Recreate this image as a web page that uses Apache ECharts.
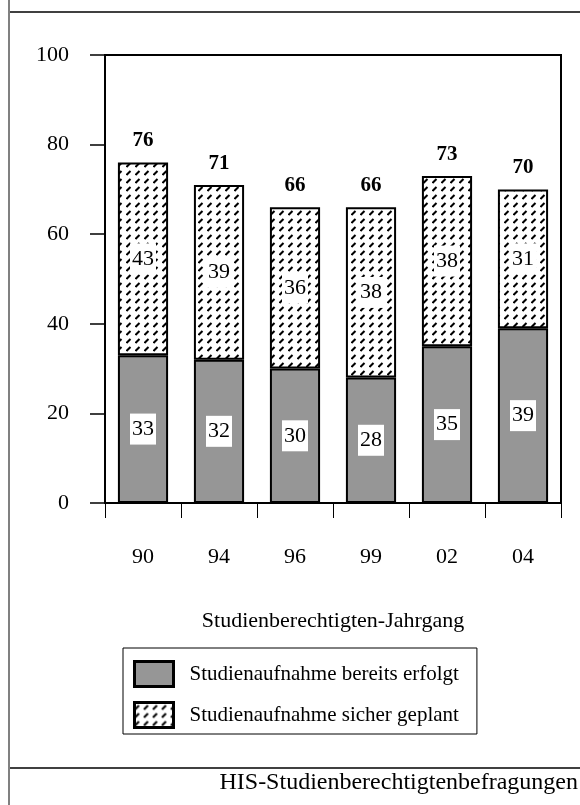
<!DOCTYPE html>
<html>
<head>
<meta charset="utf-8">
<script src="https://cdn.jsdelivr.net/npm/echarts@6/dist/echarts.min.js"></script>
<style>
  html, body { margin: 0; padding: 0; background: #fff; }
  #chart { width: 580px; height: 805px; }
</style>
</head>
<body>
<div id="chart"></div>
<script>
// Studienberechtigten-Jahrgänge and shares (in %)
const years = ['90', '94', '96', '99', '02', '04'];
const bereitsErfolgt = [33, 32, 30, 28, 35, 39];
const sicherGeplant = [43, 39, 36, 38, 38, 31];
const totals = [76, 71, 66, 66, 73, 70];
const yTicks = [0, 20, 40, 60, 80, 100];

const seriesNames = ['Studienaufnahme bereits erfolgt', 'Studienaufnahme sicher geplant'];
const FONT = '"Liberation Serif", "Times New Roman", serif';

// Hatched fill: short diagonal dashes on white
function makeHatch() {
  const c = document.createElement('canvas');
  c.width = 9; c.height = 8;
  const g = c.getContext('2d');
  g.fillStyle = '#fff';
  g.fillRect(0, 0, 9, 8);
  g.strokeStyle = '#000';
  g.lineWidth = 2;
  g.beginPath();
  g.moveTo(0.5, 7);
  g.lineTo(4.5, 3);
  g.stroke();
  return c;
}
const hatch = { image: makeHatch(), repeat: 'repeat' };

const chart = echarts.init(document.getElementById('chart'), null, { renderer: 'canvas' });

const insideLabel = {
  show: true,
  position: 'inside',
  color: '#000',
  fontFamily: FONT,
  fontSize: 22,
  backgroundColor: '#fff',
  padding: [5, 2, 4, 2]
};

chart.setOption({
  animation: false,
  backgroundColor: '#fff',
  textStyle: { fontFamily: FONT, color: '#000' },
  grid: {
    left: 105, right: 19, top: 55, bottom: 302,
    show: true, borderColor: '#000', borderWidth: 2, backgroundColor: 'transparent'
  },
  xAxis: {
    type: 'category',
    data: years,
    name: 'Studienberechtigten-Jahrgang',
    nameLocation: 'middle',
    nameGap: 107,
    nameTextStyle: { fontFamily: FONT, fontSize: 22, color: '#000' },
    axisLine: { show: true, lineStyle: { color: '#000', width: 2 } },
    axisTick: { show: true, length: 15, lineStyle: { color: '#000', width: 1 } },
    axisLabel: { margin: 43, fontFamily: FONT, fontSize: 22, color: '#000' }
  },
  yAxis: {
    type: 'value',
    min: yTicks[0],
    max: yTicks[yTicks.length - 1],
    interval: yTicks[1] - yTicks[0],
    splitLine: { show: false },
    axisLine: { show: true, lineStyle: { color: '#000', width: 2 } },
    axisTick: { show: true, length: 15, lineStyle: { color: '#000', width: 1.5 } },
    axisLabel: { margin: 36, fontFamily: FONT, fontSize: 22, color: '#000' }
  },
  legend: {
    data: seriesNames,
    icon: 'rect',
    orient: 'vertical',
    left: 123,
    top: 648,
    padding: [12, 18, 5, 10],
    itemWidth: 39,
    itemHeight: 25,
    itemGap: 13,
    borderColor: '#000',
    borderWidth: 1,
    itemStyle: { borderWidth: 3, borderColor: '#000' },
    textStyle: { fontFamily: FONT, fontSize: 21, color: '#000', padding: [0, 0, 0, 11] },
    selectedMode: false
  },
  graphic: [
    { type: 'line', shape: { x1: 9, y1: 0, x2: 9, y2: 805 }, style: { stroke: '#808080', lineWidth: 2 } },
    { type: 'line', shape: { x1: 10, y1: 12, x2: 580, y2: 12 }, style: { stroke: '#000', lineWidth: 1.5 } },
    { type: 'line', shape: { x1: 10, y1: 768, x2: 580, y2: 768 }, style: { stroke: '#000', lineWidth: 1.5 } },
    {
      type: 'text', right: 2, top: 771,
      style: { text: 'HIS-Studienberechtigtenbefragungen', font: '24px ' + FONT, fill: '#000' }
    }
  ],
  series: [
    {
      name: seriesNames[0],
      type: 'bar',
      stack: 'anteil',
      barCategoryGap: '34%',
      data: bereitsErfolgt,
      itemStyle: { color: '#969696', borderColor: '#000', borderWidth: 2 },
      label: insideLabel
    },
    {
      name: seriesNames[1],
      type: 'bar',
      stack: 'anteil',
      data: sicherGeplant,
      itemStyle: { color: hatch, borderColor: '#000', borderWidth: 2 },
      label: insideLabel
    },
    {
      // carries the total above each stacked bar
      name: 'Gesamt',
      type: 'bar',
      barGap: '-100%',
      z: 1,
      data: totals,
      itemStyle: { color: 'rgba(0,0,0,0)', borderWidth: 0 },
      label: {
        show: true,
        position: 'top',
        distance: 11,
        fontFamily: FONT,
        fontSize: 21,
        fontWeight: 'bold',
        color: '#000'
      },
      silent: true
    }
  ]
});
</script>
</body>
</html>
